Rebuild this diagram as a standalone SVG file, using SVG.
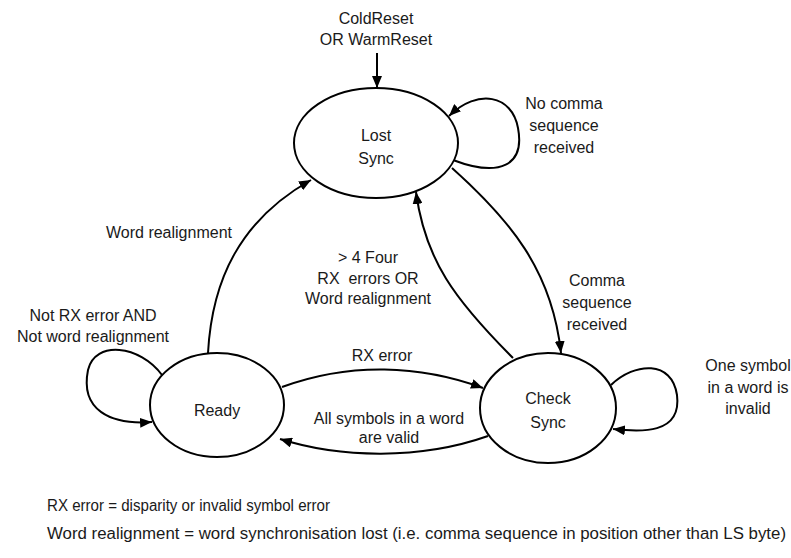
<svg xmlns="http://www.w3.org/2000/svg" width="791" height="558" viewBox="0 0 791 558">
<defs>
<marker id="ah" viewBox="0 0 12 10" refX="12" refY="5" markerWidth="12" markerHeight="10" markerUnits="userSpaceOnUse" orient="auto">
<path d="M0,0 L12,5 L0,10 z" fill="#000"/>
</marker>
<style>
.st{fill:#fff;stroke:#000;stroke-width:2}
.e{fill:none;stroke:#000;stroke-width:2;marker-end:url(#ah)}
text{font-family:"Liberation Sans",Arial,sans-serif;font-size:16px;fill:#1a1a1a}
.c{text-anchor:middle}
</style>
</defs>
<rect width="791" height="558" fill="#fff"/>
<g id="connectors">
<path class="e" d="M377,53 L377,88"/>
<path class="e" d="M453,160 C500,178 525,165 518,128 C512,95 478,88 449,116"/>
<path class="e" d="M452,168 C510,220 552,270 561,353"/>
<path class="e" d="M513,358 C455,300 425,260 416,192"/>
<path class="e" d="M208,353 C212,280 240,220 311,180"/>
<path class="e" d="M282,387 C350,362 420,365 483,388"/>
<path class="e" d="M488,436 C420,460 340,458 280,439"/>
<path class="e" d="M162,375 C140,345 95,340 88,370 C80,410 110,425 152,422"/>
<path class="e" d="M611,385 C635,362 672,360 677,395 C682,435 640,432 613,429"/>
</g>
<g id="lost-sync">
<ellipse class="st" cx="376" cy="143" rx="82" ry="55"/>
<text class="c" x="376" y="141">Lost</text>
<text class="c" x="376" y="164">Sync</text>
</g>
<g id="ready">
<ellipse class="st" cx="217" cy="405" rx="67" ry="52"/>
<text class="c" x="217" y="416">Ready</text>
</g>
<g id="check-sync">
<ellipse class="st" cx="548" cy="408" rx="68" ry="55"/>
<text class="c" x="548" y="404">Check</text>
<text class="c" x="548" y="428">Sync</text>
</g>
<g id="labels">
<text class="c" x="376" y="24">ColdReset</text>
<text class="c" x="376" y="45">OR WarmReset</text>
<text class="c" x="564" y="109">No comma</text>
<text class="c" x="564" y="131">sequence</text>
<text class="c" x="564" y="153">received</text>
<text class="c" x="169" y="238">Word realignment</text>
<text class="c" x="368" y="263">&gt; 4 Four</text>
<text class="c" x="368" y="284" xml:space="preserve">RX  errors OR</text>
<text class="c" x="368" y="304">Word realignment</text>
<text class="c" x="597" y="286">Comma</text>
<text class="c" x="597" y="308">sequence</text>
<text class="c" x="597" y="330">received</text>
<text class="c" x="93" y="321">Not RX error AND</text>
<text class="c" x="93" y="342">Not word realignment</text>
<text class="c" x="382" y="361">RX error</text>
<text class="c" x="389" y="424">All symbols in a word</text>
<text class="c" x="389" y="443">are valid</text>
<text class="c" x="748" y="371">One symbol</text>
<text class="c" x="748" y="393">in a word is</text>
<text class="c" x="748" y="414">invalid</text>
<text x="47" y="511" textLength="283" lengthAdjust="spacingAndGlyphs">RX error = disparity or invalid symbol error</text>
<text x="47" y="539" textLength="739" lengthAdjust="spacingAndGlyphs">Word realignment = word synchronisation lost (i.e. comma sequence in position other than LS byte)</text>
</g>
</svg>
